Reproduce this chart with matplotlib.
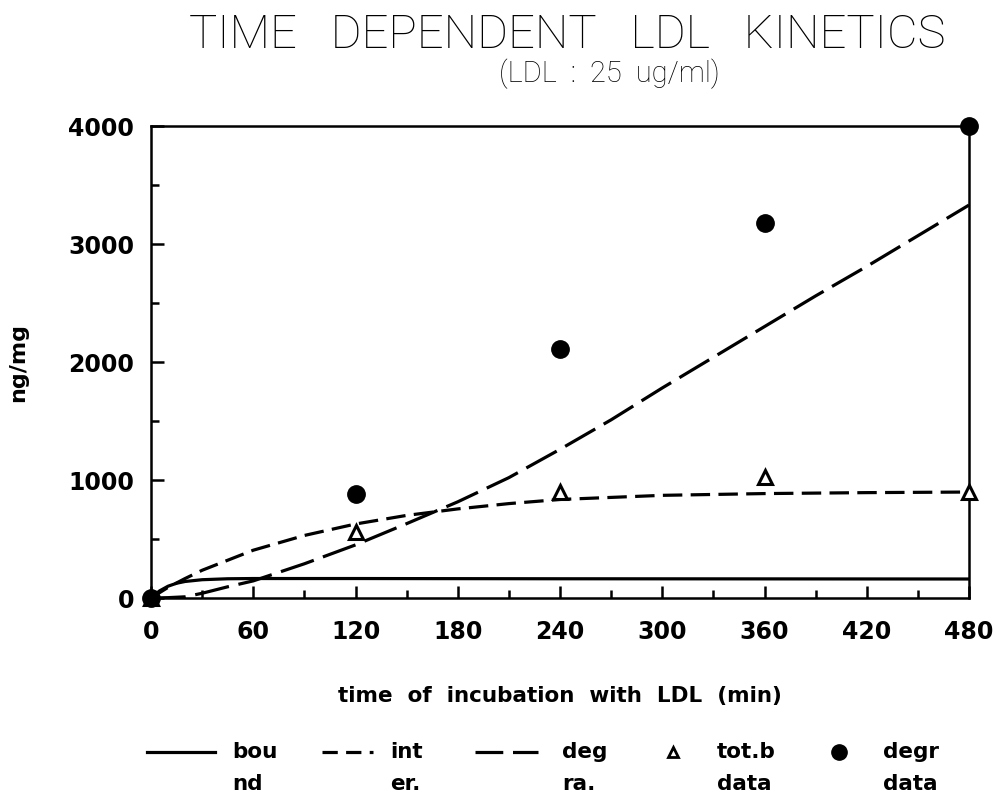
import matplotlib
matplotlib.use("Agg")
import matplotlib.pyplot as plt
from matplotlib.lines import Line2D

# ---- data ----
t_bound = [0, 5, 10, 15, 20, 30, 45, 60, 120, 240, 360, 480]
v_bound = [0, 60, 100, 125, 140, 155, 163, 165, 165, 163, 162, 161]

t_inter = [0, 10, 20, 30, 45, 60, 90, 120, 150, 180, 210, 240, 300, 360, 420, 480]
v_inter = [0, 90, 165, 235, 320, 405, 530, 627, 700, 755, 800, 835, 870, 885, 893, 898]

t_degra = [0, 10, 20, 30, 45, 60, 90, 120, 150, 180, 210, 240, 270, 300, 330, 360, 390, 420, 450, 480]
v_degra = [0, 3, 10, 40, 95, 145, 290, 450, 630, 815, 1020, 1260, 1510, 1780, 2040, 2300, 2560, 2810, 3070, 3330]

t_data = [0, 120, 240, 360, 480]
totb_data = [0, 559, 898, 1025, 898]
degr_data = [0, 881, 2110, 3178, 4000]

x_ticks = [0, 60, 120, 180, 240, 300, 360, 420, 480]
y_ticks = [0, 1000, 2000, 3000, 4000]

plt.rcParams['lines.scale_dashes'] = False
W, H = 1002, 800
fig = plt.figure(figsize=(W / 100, H / 100), dpi=100)
ax = fig.add_axes([151 / W, 1 - 598 / H, (969 - 151) / W, (598 - 126) / H])

lw = 2.3
ax.plot(t_bound, v_bound, color='black', lw=lw, solid_capstyle='butt')
ax.plot(t_inter, v_inter, color='black', lw=lw, dashes=(14, 6))
ax.plot(t_degra, v_degra, color='black', lw=lw, dashes=(25, 7))
ax.plot(t_data, totb_data, linestyle='none', marker='^', ms=10, mfc='white',
        mec='black', mew=2.2, clip_on=False, zorder=4)
ax.plot(t_data, degr_data, linestyle='none', marker='o', ms=12.5, color='black',
        clip_on=False, zorder=5)

ax.set_xlim(0, 480)
ax.set_ylim(0, 4000)
ax.set_xticks(x_ticks)
ax.set_yticks(y_ticks)
ax.set_xticks(range(30, 480, 60), minor=True)
ax.set_yticks(range(500, 4000, 1000), minor=True)

bold = dict(family='DejaVu Sans', weight='bold')
ax.set_xticklabels([str(v) for v in x_ticks], fontsize=17, **bold)
ax.set_yticklabels([str(v) for v in y_ticks], fontsize=17, **bold)
ax.tick_params(axis='both', which='major', direction='in', length=9, width=1.8,
               top=False, right=False)
ax.tick_params(axis='both', which='minor', direction='in', length=6, width=1.8,
               top=False, right=False)
ax.tick_params(axis='x', which='major', pad=16)
ax.tick_params(axis='y', which='major', pad=12)
for s in ax.spines.values():
    s.set_linewidth(1.8)

ax.set_xlabel('time  of  incubation  with  LDL  (min)', fontsize=15.5, labelpad=30, **bold)
ax.set_ylabel('ng/mg', fontsize=16, labelpad=29, **bold)

fig.text(567 / W, 1 - 35 / H, 'TIME   DEPENDENT   LDL   KINETICS', ha='center', va='center',
         fontsize=34, family='Roboto', weight='light')
fig.text(609 / W, 1 - 74 / H, '(LDL  :  25  ug/ml)', ha='center', va='center',
         fontsize=21, family='Roboto', weight='light')

# ---- legend (manual, two-line labels) ----
leg_y1 = 1 - 752 / H
leg_y2 = 1 - 784 / H
fig.add_artist(Line2D([147 / W, 215 / W], [leg_y1, leg_y1], color='black', lw=lw))
fig.add_artist(Line2D([322 / W, 373 / W], [leg_y1, leg_y1], color='black', lw=lw, dashes=(11, 6)))
fig.add_artist(Line2D([475 / W, 538 / W], [leg_y1, leg_y1], color='black', lw=lw, dashes=(20, 7)))
fig.add_artist(Line2D([673 / W], [leg_y1], marker='^', ms=7, mfc='white', mec='black', mew=2, linestyle='none'))
fig.add_artist(Line2D([839 / W], [leg_y1], marker='o', ms=11, color='black', linestyle='none'))
labels = [(232, 'bou', 'nd'), (390, 'int', 'er.'), (562, 'deg', 'ra.'),
          (717, 'tot.b', 'data'), (883, 'degr', 'data')]
for x, l1, l2 in labels:
    fig.text(x / W, leg_y1, l1, ha='left', va='center', fontsize=15.5, **bold)
    fig.text(x / W, leg_y2, l2, ha='left', va='center', fontsize=15.5, **bold)

fig.savefig('out.png', dpi=100)
